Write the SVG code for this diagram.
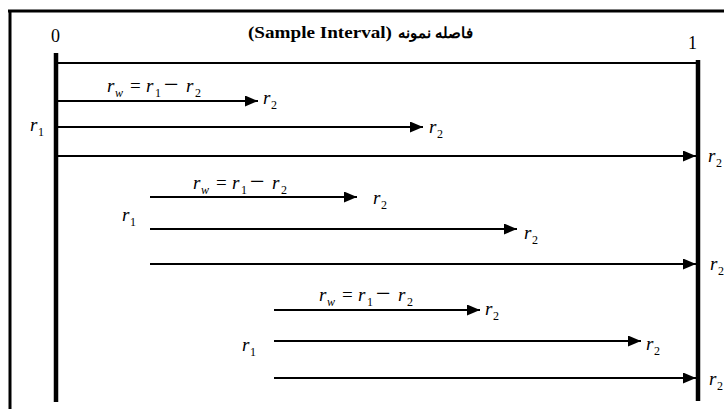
<svg xmlns="http://www.w3.org/2000/svg" width="724" height="409" viewBox="0 0 724 409">
<defs>
<marker id="ah" markerWidth="14" markerHeight="11" refX="13" refY="5.5" orient="auto" markerUnits="userSpaceOnUse">
<path d="M0,0 L13,5.5 L0,11 Z" fill="#000"/>
</marker>
<style>
.t{font-family:"Liberation Serif","Times New Roman",serif;fill:#000}
.i{font-style:italic;font-size:19px}
.s{font-size:12px}
.si{font-size:12px;font-style:italic}
.op{font-size:19px}
.mn{font-size:26px}
.ln{stroke:#000;stroke-width:2;fill:none}
.ar{stroke:#000;stroke-width:2;fill:none;marker-end:url(#ah)}
.bar{stroke:#000;stroke-width:4.5}
</style>
</defs>
<rect width="724" height="409" fill="#fff"/>
<g id="frame">
<line x1="8" y1="11" x2="724" y2="11" stroke="#000" stroke-width="3"/>
<line x1="10" y1="10" x2="10" y2="409" stroke="#000" stroke-width="3"/>
</g>
<g id="axis">
<line class="bar" x1="56" y1="53" x2="56" y2="402"/>
<line class="bar" x1="698" y1="60" x2="698" y2="401"/>
<line class="ln" x1="56" y1="63" x2="697" y2="63"/>
<text class="t" x="51" y="42" font-size="18">0</text>
<text class="t" x="688" y="49" font-size="18">1</text>
<text class="t" x="248" y="38" font-size="16" font-weight="bold" textLength="144" lengthAdjust="spacingAndGlyphs">(Sample Interval)</text>
<text class="t" x="398" y="38" font-size="15" font-weight="bold" font-family="'DejaVu Sans','Noto Sans',sans-serif">فاصله نمونه</text>
</g>
<g id="connectors">
<line class="ar" x1="57" y1="101" x2="258" y2="101"/>
<line class="ar" x1="57" y1="127" x2="423" y2="127"/>
<line class="ar" x1="57" y1="156" x2="696" y2="156"/>
<line class="ar" x1="150" y1="197" x2="357" y2="197"/>
<line class="ar" x1="150" y1="229" x2="517" y2="229"/>
<line class="ar" x1="150" y1="264" x2="696" y2="264"/>
<line class="ar" x1="274" y1="310" x2="480" y2="310"/>
<line class="ar" x1="274" y1="341" x2="641" y2="341"/>
<line class="ar" x1="274" y1="378" x2="696" y2="378"/>
</g>
<g id="group1">
<text class="t"><tspan class="i" x="107" y="92">r</tspan><tspan class="si" x="115" y="97">w</tspan><tspan class="op" x="130" y="92">=</tspan><tspan class="i" x="146" y="92">r</tspan><tspan class="s" x="155" y="97">1</tspan><tspan class="mn" x="164" y="93">−</tspan><tspan class="i" x="186" y="92">r</tspan><tspan class="s" x="195" y="97">2</tspan></text>
<text class="t"><tspan class="i" x="30" y="131">r</tspan><tspan class="s" x="38" y="136">1</tspan></text>
<text class="t"><tspan class="i" x="263" y="104">r</tspan><tspan class="s" x="271" y="109">2</tspan></text>
<text class="t"><tspan class="i" x="429" y="133">r</tspan><tspan class="s" x="437" y="138">2</tspan></text>
<text class="t"><tspan class="i" x="708" y="162">r</tspan><tspan class="s" x="716" y="167">2</tspan></text>
</g>
<g id="group2">
<text class="t"><tspan class="i" x="193" y="189">r</tspan><tspan class="si" x="201" y="194">w</tspan><tspan class="op" x="216" y="189">=</tspan><tspan class="i" x="232" y="189">r</tspan><tspan class="s" x="241" y="194">1</tspan><tspan class="mn" x="250" y="190">−</tspan><tspan class="i" x="272" y="189">r</tspan><tspan class="s" x="281" y="194">2</tspan></text>
<text class="t"><tspan class="i" x="122" y="221">r</tspan><tspan class="s" x="130" y="226">1</tspan></text>
<text class="t"><tspan class="i" x="373" y="204">r</tspan><tspan class="s" x="381" y="209">2</tspan></text>
<text class="t"><tspan class="i" x="524" y="239">r</tspan><tspan class="s" x="532" y="244">2</tspan></text>
<text class="t"><tspan class="i" x="710" y="270">r</tspan><tspan class="s" x="718" y="275">2</tspan></text>
</g>
<g id="group3">
<text class="t"><tspan class="i" x="319" y="301">r</tspan><tspan class="si" x="327" y="306">w</tspan><tspan class="op" x="342" y="301">=</tspan><tspan class="i" x="358" y="301">r</tspan><tspan class="s" x="367" y="306">1</tspan><tspan class="mn" x="376" y="302">−</tspan><tspan class="i" x="398" y="301">r</tspan><tspan class="s" x="407" y="306">2</tspan></text>
<text class="t"><tspan class="i" x="242" y="351">r</tspan><tspan class="s" x="250" y="356">1</tspan></text>
<text class="t"><tspan class="i" x="485" y="315">r</tspan><tspan class="s" x="493" y="320">2</tspan></text>
<text class="t"><tspan class="i" x="646" y="350">r</tspan><tspan class="s" x="654" y="355">2</tspan></text>
<text class="t"><tspan class="i" x="709" y="385">r</tspan><tspan class="s" x="717" y="390">2</tspan></text>
</g>
</svg>
